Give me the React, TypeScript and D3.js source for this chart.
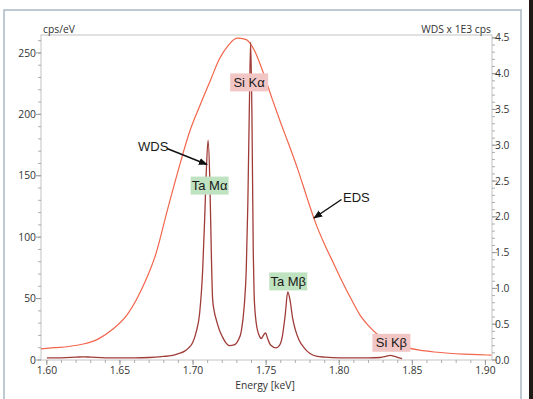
import React from "react";
import * as d3 from "d3";

// ---- Data ----
const edsEnergy = [1.596, 1.605, 1.615, 1.625, 1.635, 1.645, 1.655, 1.665, 1.675, 1.682, 1.69, 1.698, 1.705, 1.712, 1.718, 1.724, 1.73, 1.736, 1.742, 1.748, 1.754, 1.76, 1.766, 1.772, 1.778, 1.784, 1.79, 1.796, 1.802, 1.808, 1.814, 1.82, 1.826, 1.832, 1.838, 1.845, 1.855, 1.865, 1.875, 1.885, 1.895, 1.904];
const edsCps = [9, 10, 11, 13, 17, 25, 37, 58, 88, 120, 155, 187, 208, 228, 245, 256, 262, 261, 252, 234, 213, 193, 174, 154, 132, 111, 94, 79, 64, 50, 37, 28, 21, 16, 13, 10.5, 8, 6.5, 5.5, 4.8, 4.3, 4];

const wdsEnergy = [1.6, 1.61, 1.62, 1.625, 1.63, 1.64, 1.65, 1.66, 1.67, 1.68, 1.685, 1.69, 1.694, 1.697, 1.6997, 1.702, 1.7045, 1.7066, 1.708, 1.709, 1.7103, 1.7115, 1.7125, 1.7134, 1.7145, 1.7159, 1.718, 1.7202, 1.7225, 1.725, 1.728, 1.731, 1.733, 1.735, 1.7364, 1.7375, 1.7385, 1.7394, 1.7403, 1.7412, 1.7418, 1.7432, 1.7455, 1.7467, 1.748, 1.7496, 1.751, 1.753, 1.7569, 1.759, 1.761, 1.763, 1.7648, 1.7665, 1.768, 1.77, 1.7725, 1.776, 1.78, 1.785, 1.79, 1.8, 1.81, 1.82, 1.828, 1.832, 1.835, 1.838, 1.841, 1.843];
const wdsKcps = [0.03, 0.03, 0.04, 0.045, 0.04, 0.03, 0.03, 0.03, 0.035, 0.05, 0.06, 0.09, 0.12, 0.17, 0.24, 0.38, 0.65, 1.26, 2.0, 2.6, 3.07, 2.5, 1.5, 0.85, 0.68, 0.56, 0.42, 0.32, 0.24, 0.2, 0.21, 0.28, 0.4, 0.75, 1.26, 2.2, 3.5, 4.44, 3.4, 1.5, 0.9, 0.52, 0.33, 0.3, 0.34, 0.38, 0.3, 0.21, 0.17, 0.2, 0.32, 0.62, 0.95, 0.82, 0.6, 0.42, 0.28, 0.17, 0.09, 0.05, 0.04, 0.03, 0.03, 0.03, 0.035, 0.05, 0.065, 0.05, 0.03, 0.02];

const xTicks = [1.6, 1.65, 1.7, 1.75, 1.8, 1.85, 1.9];
const leftTicks = [0, 50, 100, 150, 200, 250];
const rightTicks = [0, 0.5, 1, 1.5, 2, 2.5, 3, 3.5, 4, 4.5];

const peakLabels = ["Si K\u03b1", "Ta M\u03b1", "Ta M\u03b2", "Si K\u03b2"];
const peakEnergy = [1.7394, 1.7103, 1.7648, 1.835];
const peakLabelY = [226, 142, 64, 14]; // cps/eV where label sits
const peakKind = ["Si", "Ta", "Ta", "Si"];

const W = 533, H = 399;
const M = { left: 41, right: 492, top: 35, bottom: 360 };

export default function App() {
  const x = d3.scaleLinear().domain([1.596, 1.9045]).range([M.left, M.right]);
  const yL = d3.scaleLinear().domain([0, 264.6]).range([M.bottom, M.top]);
  const yR = d3.scaleLinear().domain([0, 4.54]).range([M.bottom, M.top]);

  const edsLine = d3.line<number>().x((_, i) => x(edsEnergy[i])).y(d => yL(d)).curve(d3.curveMonotoneX);
  const wdsLine = d3.line<number>().x((_, i) => x(wdsEnergy[i])).y(d => yR(d)).curve(d3.curveMonotoneX);

  const xMinor = d3.range(1.6, 1.9001, 0.01);
  const lMinor = d3.range(0, 261, 10);
  const rMinor = d3.range(0, 4.51, 0.1);

  const tickFont = "'Open Sans', 'Noto Sans', sans-serif";
  const labFont = "'Liberation Sans', Arial, sans-serif";
  const axisCol = "#c4c4c4";
  const tickCol = "#9a9a9a";
  const txtCol = "#333";

  return (
    <div style={{ position: "absolute", left: 0, top: 0 }}>
      <svg width={W} height={H} style={{ display: "block", background: "#fff" }}>
        {/* outer frame */}
        <rect x={4} y={10} width={517} height={400} fill="none" stroke="#a9b8c4" strokeWidth={1.5} />
        <rect x={529} y={0} width={4} height={H} fill="#1e1a16" />

        {/* plot frame */}
        <rect x={M.left} y={M.top} width={M.right - M.left} height={M.bottom - M.top} fill="none" stroke={axisCol} strokeWidth={1} />

        {/* x ticks */}
        {xMinor.map((t, i) => (
          <line key={"xm" + i} x1={x(t)} x2={x(t)} y1={M.bottom} y2={M.bottom + 3} stroke={tickCol} strokeWidth={0.8} />
        ))}
        {xTicks.map(t => (
          <g key={"x" + t}>
            <line x1={x(t)} x2={x(t)} y1={M.bottom} y2={M.bottom + 5} stroke={tickCol} strokeWidth={1} />
            <text x={x(t)} y={374} textAnchor="middle" fontFamily={tickFont} fontSize={10.3} fill={txtCol}>{t.toFixed(2)}</text>
          </g>
        ))}

        {/* left ticks */}
        {lMinor.map((t, i) => (
          <line key={"lm" + i} x1={M.left - 3} x2={M.left} y1={yL(t)} y2={yL(t)} stroke={tickCol} strokeWidth={0.8} />
        ))}
        {leftTicks.map(t => (
          <g key={"l" + t}>
            <line x1={M.left - 5} x2={M.left} y1={yL(t)} y2={yL(t)} stroke={tickCol} strokeWidth={1} />
            <text x={36} y={yL(t) + 3.6} textAnchor="end" fontFamily={tickFont} fontSize={10.3} fill={txtCol}>{t}</text>
          </g>
        ))}

        {/* right ticks */}
        {rMinor.map((t, i) => (
          <line key={"rm" + i} x1={M.right} x2={M.right + 3} y1={yR(t)} y2={yR(t)} stroke={tickCol} strokeWidth={0.8} />
        ))}
        {rightTicks.map(t => (
          <g key={"r" + t}>
            <line x1={M.right} x2={M.right + 5} y1={yR(t)} y2={yR(t)} stroke={tickCol} strokeWidth={1} />
            <text x={495} y={yR(t) + 3.6} textAnchor="start" fontFamily={tickFont} fontSize={10.3} fill={txtCol}>{t.toFixed(1)}</text>
          </g>
        ))}

        {/* axis titles */}
        <text x={43} y={32.5} fontFamily={tickFont} fontSize={10.3} fill={txtCol}>cps/eV</text>
        <text x={491} y={32.5} textAnchor="end" fontFamily={tickFont} fontSize={10.3} fill={txtCol}>WDS x 1E3 cps</text>
        <text x={265} y={388.5} textAnchor="middle" fontFamily={tickFont} fontSize={10.3} fill={txtCol}>Energy [keV]</text>

        {/* curves */}
        <path d={edsLine(edsCps) || ""} fill="none" stroke="#f2664c" strokeWidth={1.2} />
        <path d={wdsLine(wdsKcps) || ""} fill="none" stroke="#a03c38" strokeWidth={1.3} />

        {/* peak labels */}
        {peakLabels.map((lab, i) => {
          const cx = x(peakEnergy[i]) + (i === 3 ? 1 : i === 2 ? 0.5 : i === 1 ? 1.5 : -1.5);
          const cy = yL(peakLabelY[i]);
          const w = 38, h = 18;
          return (
            <g key={lab}>
              <rect x={cx - w / 2} y={cy - h / 2} width={w} height={h} fill={peakKind[i] === "Si" ? "#f3c6c6" : "#bfe3c0"} />
              <text x={cx} y={cy + 4.5} textAnchor="middle" fontFamily={labFont} fontSize={13} fill="#1a1a1a">{lab}</text>
            </g>
          );
        })}

        {/* annotations */}
        <defs>
          <marker id="ah" viewBox="0 0 10 10" refX={9} refY={5} markerWidth={6} markerHeight={6} orient="auto">
            <path d="M0,1 L10,5 L0,9 Z" fill="#111" />
          </marker>
        </defs>
        <text x={138} y={151} fontFamily={labFont} fontSize={13} fill="#1a1a1a">WDS</text>
        <line x1={167} x2={207} y1={148.5} y2={164.5} stroke="#111" strokeWidth={1.5} markerEnd="url(#ah)" />
        <text x={343} y={202} fontFamily={labFont} fontSize={13} fill="#1a1a1a">EDS</text>
        <line x1={341.5} x2={314} y1={199.5} y2={218} stroke="#111" strokeWidth={1.5} markerEnd="url(#ah)" />
      </svg>
    </div>
  );
}
